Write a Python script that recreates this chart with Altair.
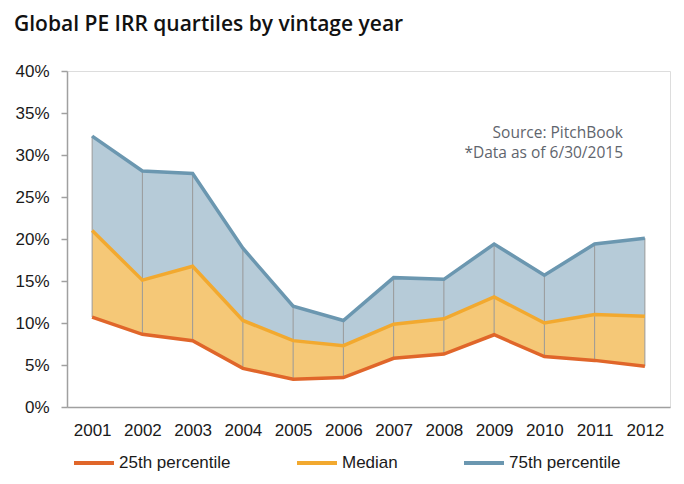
import altair as alt
import pandas as pd

years = ["2001", "2002", "2003", "2004", "2005", "2006", "2007", "2008", "2009", "2010", "2011", "2012"]
p25 = [10.7, 8.65, 7.9, 4.6, 3.3, 3.5, 5.8, 6.3, 8.6, 6.0, 5.55, 4.85]
med = [21.0, 15.1, 16.75, 10.3, 7.9, 7.3, 9.85, 10.5, 13.1, 10.0, 11.0, 10.8]
p75 = [32.25, 28.1, 27.8, 18.9, 12.0, 10.3, 15.4, 15.2, 19.4, 15.7, 19.4, 20.1]
series = ["25th percentile", "Median", "75th percentile"]
line_colors = ["#e0662a", "#f2a92f", "#6b97b0"]
title_text = ["Global PE IRR quartiles by vintage year"]
notes_text = ["Source: PitchBook", "*Data as of 6/30/2015"]

wide = pd.DataFrame({
    "year": years,
    "p25": [v / 100 for v in p25],
    "med": [v / 100 for v in med],
    "p75": [v / 100 for v in p75],
})
long = pd.concat([
    pd.DataFrame({"year": years, "value": [v / 100 for v in vals], "series": name})
    for name, vals in zip(series, [p25, med, p75])
])

FONT = "Liberation Sans"
x_enc = alt.X("year:O", scale=alt.Scale(type="point", padding=0.5),
              axis=alt.Axis(title=None, labelAngle=0, ticks=False, domainColor="#a0a0a0",
                            domainWidth=1.5, labelFont=FONT, labelFontSize=17,
                            labelColor="#1a1a1a", labelPadding=15))
y_scale = alt.Scale(domain=[0, 0.4], nice=False)
y_axis = alt.Axis(title=None, values=[0, 0.05, 0.1, 0.15, 0.2, 0.25, 0.3, 0.35, 0.4],
                  format=".0%", grid=False, domainColor="#a0a0a0", domainWidth=1.5,
                  tickColor="#a0a0a0", tickSize=6, tickWidth=1.5, labelFont=FONT,
                  labelFontSize=17, labelColor="#1a1a1a", labelPadding=12)

base = alt.Chart(wide)
area_low = base.mark_area(color="#f5c877", opacity=1).encode(
    x=x_enc, y=alt.Y("p25:Q", scale=y_scale, axis=y_axis), y2="med:Q")
area_high = base.mark_area(color="#b6cbd8", opacity=1).encode(
    x=x_enc, y=alt.Y("med:Q", scale=y_scale, axis=y_axis), y2="p75:Q")
rules = base.mark_rule(color="#999999", strokeWidth=1).encode(
    x=x_enc, y=alt.Y("p25:Q", scale=y_scale, axis=y_axis), y2="p75:Q")

lines = alt.Chart(long).mark_line(strokeWidth=3.5).encode(
    x=x_enc,
    y=alt.Y("value:Q", scale=y_scale, axis=y_axis),
    color=alt.Color("series:N", sort=series,
                    scale=alt.Scale(domain=series, range=line_colors),
                    legend=alt.Legend(title=None, orient="none", direction="horizontal",
                                      legendX=5, legendY=370, symbolType="stroke",
                                      symbolSize=1600, symbolStrokeWidth=4,
                                      labelFont=FONT, labelFontSize=17, labelColor="#1a1a1a",
                                      columnPadding=58, labelOffset=3)),
)

note_df = pd.DataFrame({"t": notes_text, "yy": [62, 82]})
notes = alt.Chart(note_df).mark_text(align="right", baseline="middle", font="Open Sans",
                                     fontSize=15.5, color="#5f656d").encode(
    x=alt.value(556), y=alt.Y("yy:Q", scale=None), text="t:N")

title_df = pd.DataFrame({"t": title_text})
title = alt.Chart(title_df).mark_text(align="left", baseline="alphabetic", font="Open Sans",
                                      fontSize=21, fontWeight=600, color="#111111").encode(
    x=alt.value(-53), y=alt.value(-40), text="t:N")

chart = alt.layer(area_low, area_high, rules, lines, notes, title).properties(
    width=603, height=336,
    autosize=alt.AutoSizeParams(type="none"),
    padding={"left": 59, "top": 63, "right": 6, "bottom": 69},
).configure_view(stroke=None).configure(background="white")

chart.save("out.html", embed_options={"renderer": "svg", "actions": False})
